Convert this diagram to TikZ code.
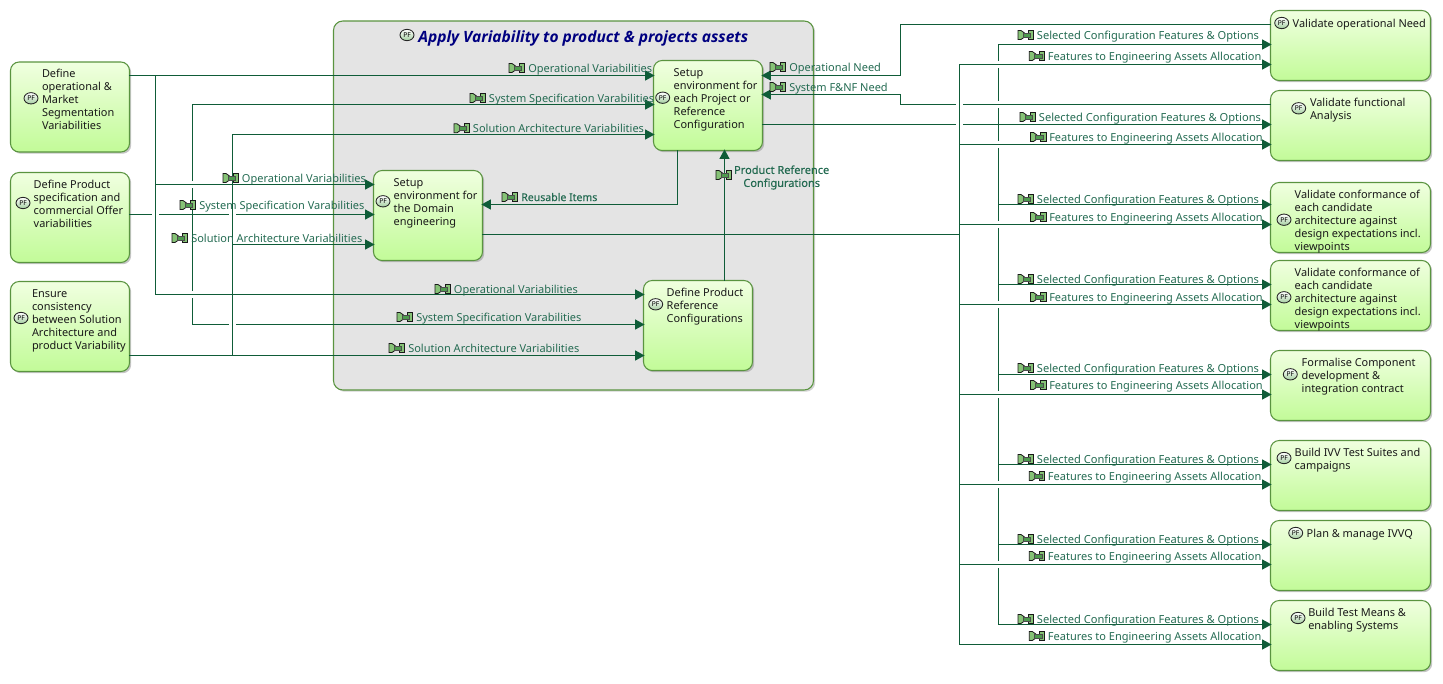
\documentclass[tikz,border=0pt]{standalone}
\usepackage{fontspec}
\setmainfont{Noto Sans}
\newfontfamily\titlefont{Open Sans}
\usetikzlibrary{arrows.meta,shapes.geometric,shadows}
\definecolor{wirec}{HTML}{0F5C38}
\definecolor{labc}{HTML}{246B52}
\definecolor{edgec}{HTML}{5A9440}
\definecolor{boxtop}{HTML}{F0FFE0}
\definecolor{boxmid}{HTML}{DDFCC0}
\definecolor{boxbot}{HTML}{C2FB98}
\definecolor{contc}{HTML}{E4E4E4}
\definecolor{iconlo}{HTML}{A4CFA0}
\definecolor{flowf}{HTML}{86C276}
\definecolor{flowm}{HTML}{4E9A4E}
\def\g{3.4pt}
\newcommand\selcfg{{\fontsize{8.33}{9.75}\selectfont Selected Configuration Features \& Options}}
\tikzset{
  x=0.75pt,y=-0.75pt,
  wire/.style={draw=wirec,line width=0.95pt,line cap=rect},
  flow/.style={wire,-{Triangle[length=7pt,width=7.4pt,fill=wirec]},shorten >=-1.2pt},
  pfnode/.style={rectangle,draw=edgec,line width=0.8pt,rounded corners=6.5pt,inner sep=0pt,
    top color=boxtop,middle color=boxmid,bottom color=boxbot,
    drop shadow={shadow xshift=1.3pt,shadow yshift=-1.3pt,fill=black!45,opacity=.5},
    font=\fontsize{8.2}{9.75}\selectfont,text=black!90},
  container/.style={rectangle,draw=edgec,line width=0.8pt,rounded corners=7pt,inner sep=0pt,fill=contc,
    drop shadow={shadow xshift=1.3pt,shadow yshift=-1.3pt,fill=black!35,opacity=.5}},
  pficon/.style={ellipse,draw=black!85,line width=0.65pt,inner sep=0pt,minimum width=10.5pt,minimum height=8.5pt,
    top color=white,bottom color=iconlo,font=\fontsize{5}{5}\selectfont\bfseries,text=black},
  flowtxt/.style={anchor=base west,inner sep=0pt,font=\fontsize{8.25}{9.75}\selectfont,text=labc},
  flowicon/.pic={
    \fill[draw=black!90,line width=.6pt,fill=flowf] (0,-4.5) -- (3,-4.5) -- (6.5,-2) -- (6.5,2) -- (3,4.5) -- (0,4.5) -- cycle;
    \fill[draw=black!90,line width=.6pt,fill=flowf] (15.5,-4.5) -- (10,-4.5) -- (10,4.5) -- (15.5,4.5) -- cycle;
    \fill[draw=black!70,line width=.3pt,fill=flowm] (5,-1.7) -- (12.5,-1.7) -- (12.5,1.7) -- (5,1.7) -- cycle;
  }
}
% name, x0, y0, x1, y1, text x, first line centre y, lines
\newcommand\pfbox[8]{%
  \pgfmathsetmacro\bw{(#4-#2)*.75}%
  \pgfmathsetmacro\bh{(#5-#3)*.75}%
  \pgfmathsetmacro\lx{(#6-#2)*.75}%
  \pgfmathsetmacro\tp{(#7+4-#3-9.1)*.75}%
  \node[pfnode] (#1) at ({(#2+#4)/2},{(#3+#5)/2})
    {\parbox[c][\bh pt][t]{\bw pt}{\vspace*{\tp pt}\leftskip=\lx pt\rightskip=0pt plus 1fil\strut #8}};%
}
% name, icon x, text x, centre y, text
\newcommand\flab[5]{%
  \node[flowtxt] (#1) at (#3,#4+4) {#5};%
  \pic at (#2,#4) {flowicon};%
}
\begin{document}
\begin{tikzpicture}
\useasboundingbox (0,0) rectangle (1443,683);
\foreach \y in {24,44,64,75,94,104,124,134,144,184,204,214,224,234,244,284,294,304,324,355,374,394,464,484,544,564,624,644}
  \coordinate (h\y) at (0,\y+.5);
\foreach \x in {155,192,232,677,724,900,959,998}
  \coordinate (v\x) at (\x+.5,0);

\node[container,minimum width=360pt,minimum height=276.75pt] (Cont) at (573.5,205.5) {};
\node[inner sep=0pt,anchor=base west,text=blue!50!black,font=\titlefont\fontsize{11.65}{14}\selectfont\bfseries\itshape] (Title) at (418,42) {Apply Variability to product \& projects assets};
\node[pficon] (iT) at (407,35) {PF};

\pfbox{L1}{10.5}{62}{129.5}{152}{42}{73}{Define\\operational \&\\Market\\Segmentation\\Variabilities}
\pfbox{L2}{10.5}{172.5}{129.5}{262.5}{33.7}{184}{Define Product\\specification and\\commercial Offer\\variabilities}
\pfbox{L3}{10.5}{281.5}{129.5}{371.5}{32}{293}{Ensure\\consistency\\between Solution\\Architecture and\\product Variability}
\pfbox{P}{653.5}{60.5}{762.5}{150.5}{673.7}{72.3}{Setup\\environment for\\each Project or\\Reference\\Configuration}
\pfbox{D}{373.5}{170.5}{482.5}{260.5}{393.7}{182.3}{Setup\\environment for\\the Domain\\engineering}
\pfbox{Rf}{643.5}{280.5}{752.5}{370.5}{666.7}{292.3}{Define Product\\Reference\\Configurations}
\pfbox{Ra}{1270.5}{10.5}{1430.5}{80.5}{1292.7}{23}{Validate operational Need}
\pfbox{Rb}{1270.5}{90.5}{1430.5}{160.5}{1310}{102}{Validate functional\\Analysis}
\pfbox{Rc}{1270.5}{182.5}{1430.5}{252.5}{1294.7}{194}{Validate conformance of\\each candidate\\architecture against\\design expectations incl.\\viewpoints}
\pfbox{Rd}{1270.5}{260.5}{1430.5}{330.5}{1294.7}{272}{Validate conformance of\\each candidate\\architecture against\\design expectations incl.\\viewpoints}
\pfbox{Re}{1270.5}{350.5}{1430.5}{420.5}{1301.7}{362.5}{Formalise Component\\development \&\\integration contract}
\pfbox{Rg}{1270.5}{440.5}{1430.5}{510.5}{1294.7}{452}{Build IVV Test Suites and\\campaigns}
\pfbox{Rh}{1270.5}{520.5}{1430.5}{590.5}{1306.7}{533}{Plan \& manage IVVQ}
\pfbox{Ri}{1270.5}{600.5}{1430.5}{670.5}{1308.3}{612}{Build Test Means \&\\enabling Systems}

\node[pficon] (iL1) at (31,98.3) {PF};
\node[pficon] (iL2) at (23,203) {PF};
\node[pficon] (iL3) at (21,318) {PF};
\node[pficon] (iP) at (662.7,97.7) {PF};
\node[pficon] (iD) at (383,201.3) {PF};
\node[pficon] (iRf) at (655.7,304.3) {PF};
\node[pficon] (iRa) at (1281.7,23) {PF};
\node[pficon] (iRb) at (1298.7,108.3) {PF};
\node[pficon] (iRc) at (1284,219.7) {PF};
\node[pficon] (iRd) at (1284,297.3) {PF};
\node[pficon] (iRe) at (1290.3,374.3) {PF};
\node[pficon] (iRg) at (1284,458) {PF};
\node[pficon] (iRh) at (1295.7,533) {PF};
\node[pficon] (iRi) at (1298,618) {PF};

% left side
\draw[flow] (L1.east|-h75) -- (P.west|-h75);
\draw[wire] (v155|-h75) -- (v155|-h294);
\draw[flow] (v155|-h184) -- (D.west|-h184);
\draw[flow] (v155|-h294) -- (Rf.west|-h294);
\draw[flow] (L2.east|-h214) -- ([xshift=-\g]v155|-h214) ([xshift=\g]v155|-h214) -- ([xshift=-\g]v232|-h214) ([xshift=\g]v232|-h214) -- (D.west|-h214);
\draw[wire] (v192|-h104) -- ([yshift=\g]v192|-h184) ([yshift=-\g]v192|-h184) -- ([yshift=\g]v192|-h294) ([yshift=-\g]v192|-h294) -- (v192|-h324);
\draw[flow] (v192|-h104) -- (P.west|-h104);
\draw[flow] (v192|-h324) -- ([xshift=-\g]v232|-h324) ([xshift=\g]v232|-h324) -- (Rf.west|-h324);
\draw[flow] (L3.east|-h355) -- (Rf.west|-h355);
\draw[wire] (v232|-h355) -- (v232|-h134);
\draw[flow] (v232|-h134) -- (P.west|-h134);
\draw[flow] (v232|-h244) -- (D.west|-h244);
% inside
\draw[flow] (Rf.north-|v724) -- (P.south-|v724);
\draw[flow] (P.south-|v677) -- (v677|-h204) -- (D.east|-h204);
% right side
\draw[flow] (Ra.west|-h24) -- (v900|-h24) -- (v900|-h75) -- (P.east|-h75);
\draw[flow] (Rb.west|-h104) -- ([xshift=\g]v959|-h104) ([xshift=-\g]v959|-h104) -- (v900|-h104) -- (v900|-h94) -- (P.east|-h94);
\draw[wire] (P.east|-h124) -- ([xshift=-\g]v959|-h124) ([xshift=\g]v959|-h124) -- (v998|-h124);
\draw[wire] (D.east|-h234) -- (v959|-h234);
\draw[wire] (v959|-h64) -- (v959|-h644);
\draw[wire] (v998|-h44) -- ([yshift=\g]v998|-h64);
\foreach \a/\b in {64/104,104/144,144/224,224/304,304/394,394/484,484/564}
  \draw[wire] ([yshift=-\g]v998|-h\a) -- ([yshift=\g]v998|-h\b);
\draw[wire] ([yshift=-\g]v998|-h564) -- (v998|-h624);
\foreach \b/\s/\f in {Ra/44/64,Rb/124/144,Rc/204/224,Rd/284/304,Re/374/394,Rg/464/484,Rh/544/564,Ri/624/644}{
  \draw[flow] (v998|-h\s) -- (\b.west|-h\s);
  \draw[flow] (v959|-h\f) -- (\b.west|-h\f);
}

% labels
\flab{a1}{509}{528}{68}{Operational Variabilities}
\flab{a2}{470}{488.7}{98}{System Specification Varabilities}
\flab{a3}{454}{472.7}{128.3}{Solution Architecture Variabilities}
\flab{b1}{223}{241.7}{178}{Operational Variabilities}
\flab{b2}{180}{199}{205}{System Specification Varabilities}
\flab{b3}{172}{191}{238}{Solution Architecture Variabilities}
\flab{c1}{435}{453.7}{289}{Operational Variabilities}
\flab{c2}{397}{416}{317}{System Specification Varabilities}
\flab{c3}{389}{408}{348}{Solution Architecture Variabilities}
\flab{n1}{770}{789}{67}{Operational Need}
\flab{n2}{770}{789}{87}{System F\&NF Need}
\node[flowtxt,font=\fontsize{7.9}{9.75}\selectfont\addfontfeature{FakeBold=0.4}] (ru) at (521,201) {Reusable Items};
\pic at (502,197) {flowicon};
\node[anchor=center,inner sep=0pt,align=center,text=labc,font=\fontsize{8.25}{9.75}\selectfont\addfontfeature{FakeBold=0.3}] (pr) at (781.7,177.5) {Product Reference\\Configurations};
\pic at (716,175) {flowicon};

\flab{s1}{1018}{1036.7}{35}{\selcfg}
\flab{s2}{1020}{1038.7}{117}{\selcfg}
\flab{s3}{1018}{1036.7}{199}{\selcfg}
\flab{s4}{1018}{1036.7}{279}{\selcfg}
\flab{s5}{1018}{1036.7}{368}{\selcfg}
\flab{s6}{1018}{1036.7}{459}{\selcfg}
\flab{s7}{1018}{1036.7}{539}{\selcfg}
\flab{s8}{1018}{1036.7}{619}{\selcfg}
\flab{f1}{1029.3}{1047.7}{56}{Features to Engineering Assets Allocation}
\flab{f2}{1030.5}{1049}{137}{Features to Engineering Assets Allocation}
\flab{f3}{1030.5}{1049}{217}{Features to Engineering Assets Allocation}
\flab{f4}{1030.5}{1049}{297}{Features to Engineering Assets Allocation}
\flab{f5}{1030.5}{1049}{385}{Features to Engineering Assets Allocation}
\flab{f6}{1029.3}{1047.7}{476}{Features to Engineering Assets Allocation}
\flab{f7}{1029.3}{1047.7}{556}{Features to Engineering Assets Allocation}
\flab{f8}{1029.3}{1047.7}{636}{Features to Engineering Assets Allocation}
\end{tikzpicture}
\end{document}
